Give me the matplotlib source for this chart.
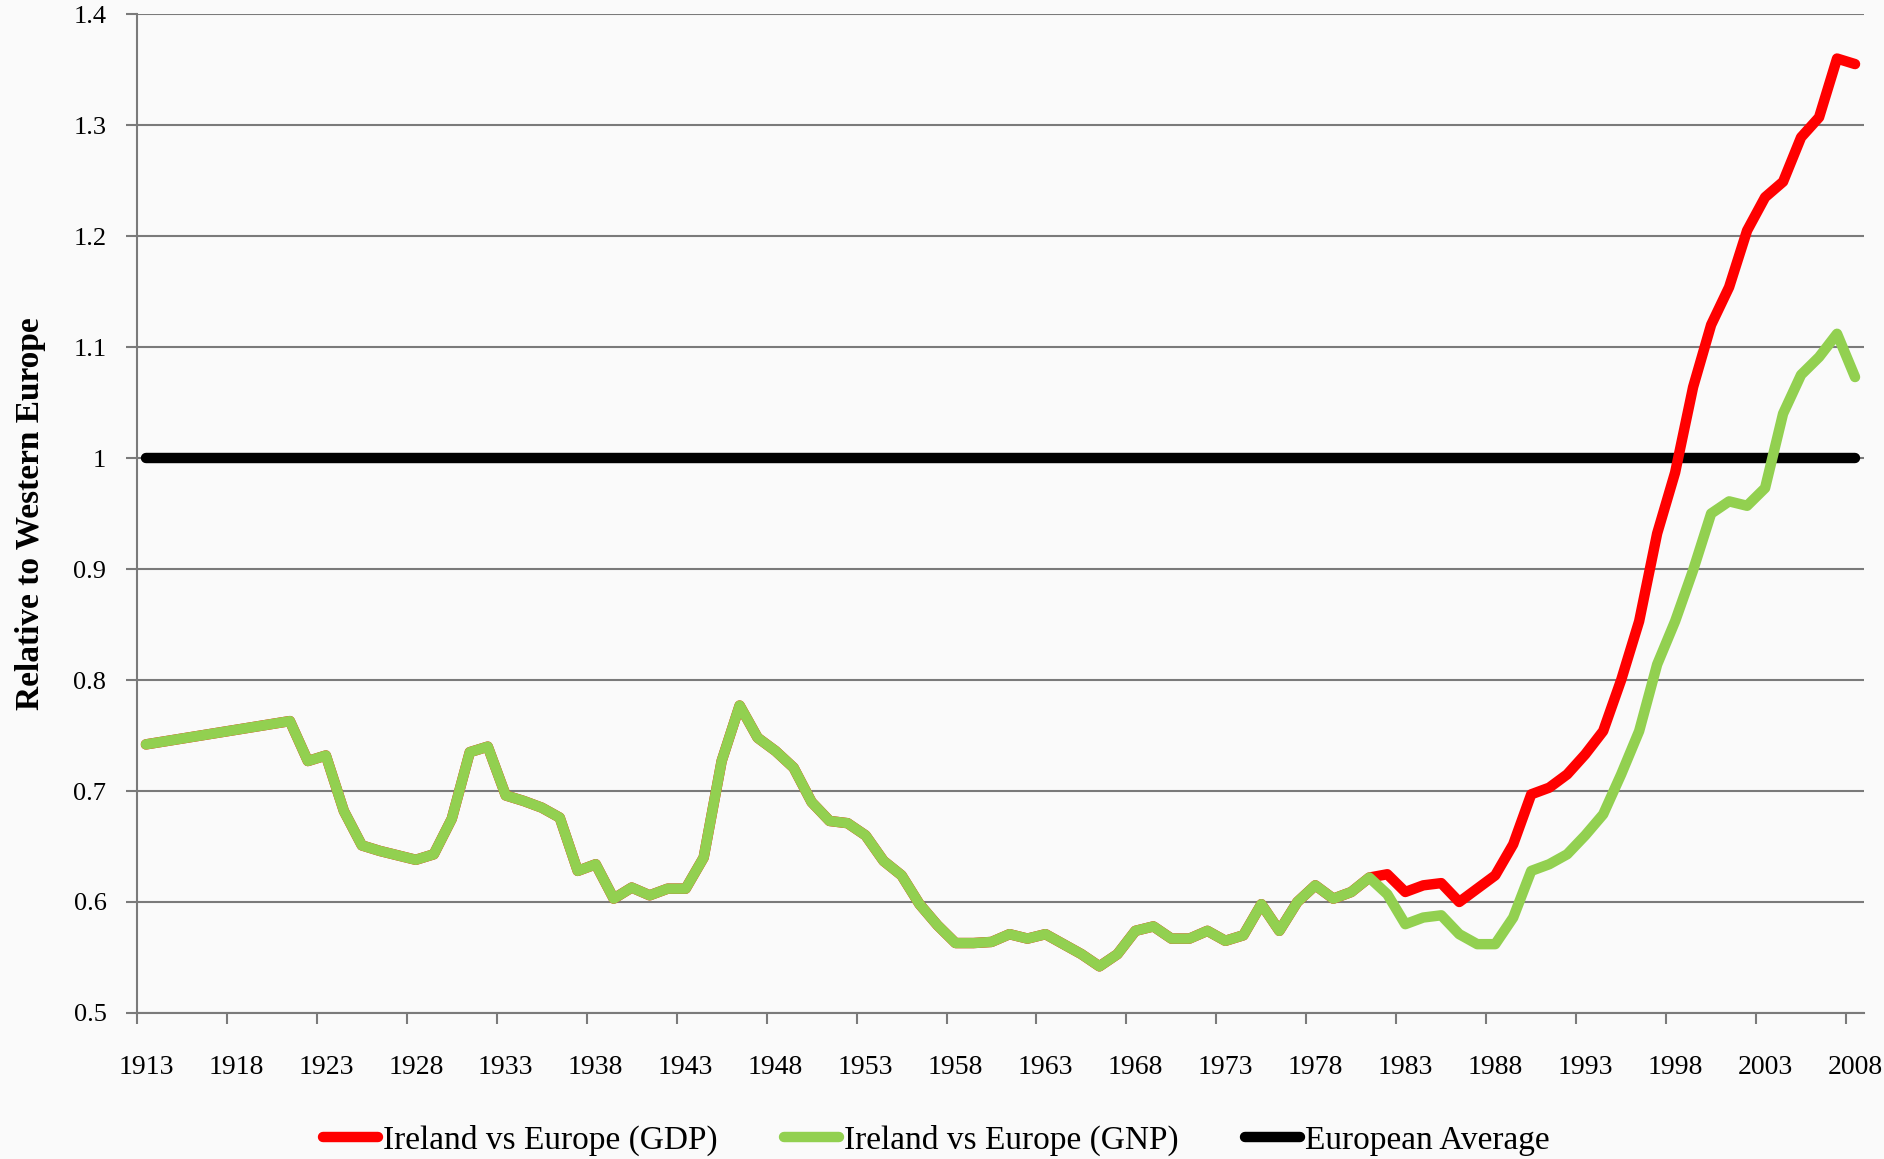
import matplotlib.pyplot as plt
from matplotlib.ticker import FixedLocator

plt.rcParams['font.family'] = ['Liberation Serif', 'DejaVu Serif']

# years with data (1914-1920 are missing, the line just joins across them)
years = [1913] + list(range(1921, 2009))

# Ireland GNP relative to Western Europe
gnp = [0.742,
       0.763, 0.727, 0.732, 0.682, 0.651, 0.646, 0.642, 0.638, 0.643,  # 1921-1929
       0.675, 0.735, 0.740, 0.696, 0.691, 0.685, 0.676, 0.628, 0.634, 0.603,  # 1930-1939
       0.613, 0.606, 0.612, 0.612, 0.640, 0.727, 0.777, 0.748, 0.736, 0.721,  # 1940-1949
       0.690, 0.673, 0.671, 0.660, 0.637, 0.624, 0.598, 0.579, 0.563, 0.563,  # 1950-1959
       0.564, 0.571, 0.567, 0.571, 0.562, 0.553, 0.542, 0.553, 0.574, 0.578,  # 1960-1969
       0.567, 0.567, 0.574, 0.565, 0.570, 0.598, 0.574, 0.600, 0.615, 0.603,  # 1970-1979
       0.609, 0.622, 0.607, 0.580, 0.586, 0.588, 0.571, 0.562, 0.562, 0.586,  # 1980-1989
       0.628, 0.634, 0.643, 0.660, 0.679, 0.715, 0.754, 0.814, 0.853, 0.899,  # 1990-1999
       0.950, 0.961, 0.957, 0.973, 1.040, 1.075, 1.091, 1.112, 1.073]  # 2000-2008

# Ireland GDP: same as GNP until 1981, then diverges
gdp_1982_on = [0.625, 0.609, 0.615, 0.617, 0.600, 0.612, 0.624, 0.652,  # 1982-1989
               0.697, 0.703, 0.715, 0.733, 0.754, 0.800, 0.853, 0.932, 0.987, 1.064,  # 1990-1999
               1.120, 1.154, 1.205, 1.235, 1.249, 1.289, 1.307, 1.360, 1.355]  # 2000-2008
gdp = gnp[:years.index(1982)] + gdp_1982_on

europe = [1.0] * len(years)

tick_years = list(range(1913, 2009, 5))

fig = plt.figure(figsize=(18.84, 11.59), dpi=100, facecolor='#fafafa')
ax = fig.add_axes([0.0727, 0.126, 0.9167, 0.8618])
ax.set_facecolor('#fafafa')

ax.plot(years, gdp, color='#ff0000', lw=7.5, solid_capstyle='round', label='Ireland vs Europe (GDP)', zorder=3)
ax.plot(years, gnp, color='#92d050', lw=7.5, solid_capstyle='round', label='Ireland vs Europe (GNP)', zorder=4)
ax.plot(years, europe, color='black', lw=7.5, solid_capstyle='round', label='European Average', zorder=2)

ax.set_xlim(1912.5, 2008.5)
ax.set_ylim(0.5, 1.4)

# gridlines + y ticks
ax.set_yticks([0.5, 0.6, 0.7, 0.8, 0.9, 1.0, 1.1, 1.2, 1.3, 1.4])
ax.set_yticklabels(['0.5', '0.6', '0.7', '0.8', '0.9', '1', '1.1', '1.2', '1.3', '1.4'])
ax.yaxis.grid(True, color='#7a7a7a', lw=1.5)
ax.set_axisbelow(True)

# tick marks sit between categories, labels at the category centre
ax.xaxis.set_major_locator(FixedLocator([y - 0.5 for y in tick_years]))
ax.xaxis.set_minor_locator(FixedLocator(tick_years))
ax.set_xticklabels([], minor=False)
ax.set_xticklabels([str(y) for y in tick_years], minor=True)
ax.tick_params(axis='x', which='major', length=8, width=1.5, color='#7a7a7a', direction='out')
ax.tick_params(axis='x', which='minor', length=0, pad=30, labelsize=20)
ax.tick_params(axis='y', length=8, width=1.5, color='#7a7a7a', direction='out', pad=14, labelsize=19)

for s in ['top', 'right']:
    ax.spines[s].set_visible(False)
for s in ['left', 'bottom']:
    ax.spines[s].set_color('#7a7a7a')
    ax.spines[s].set_linewidth(1.5)

ax.set_ylabel('Relative to Western Europe', fontsize=24, fontweight='bold', labelpad=20)

fig.legend(loc='center', bbox_to_anchor=(0.497, 0.016), ncol=3, frameon=False,
           fontsize=24, handlelength=1.65, handletextpad=0.15, columnspacing=2.0)

fig.savefig('out.png', dpi=100, facecolor=fig.get_facecolor())
